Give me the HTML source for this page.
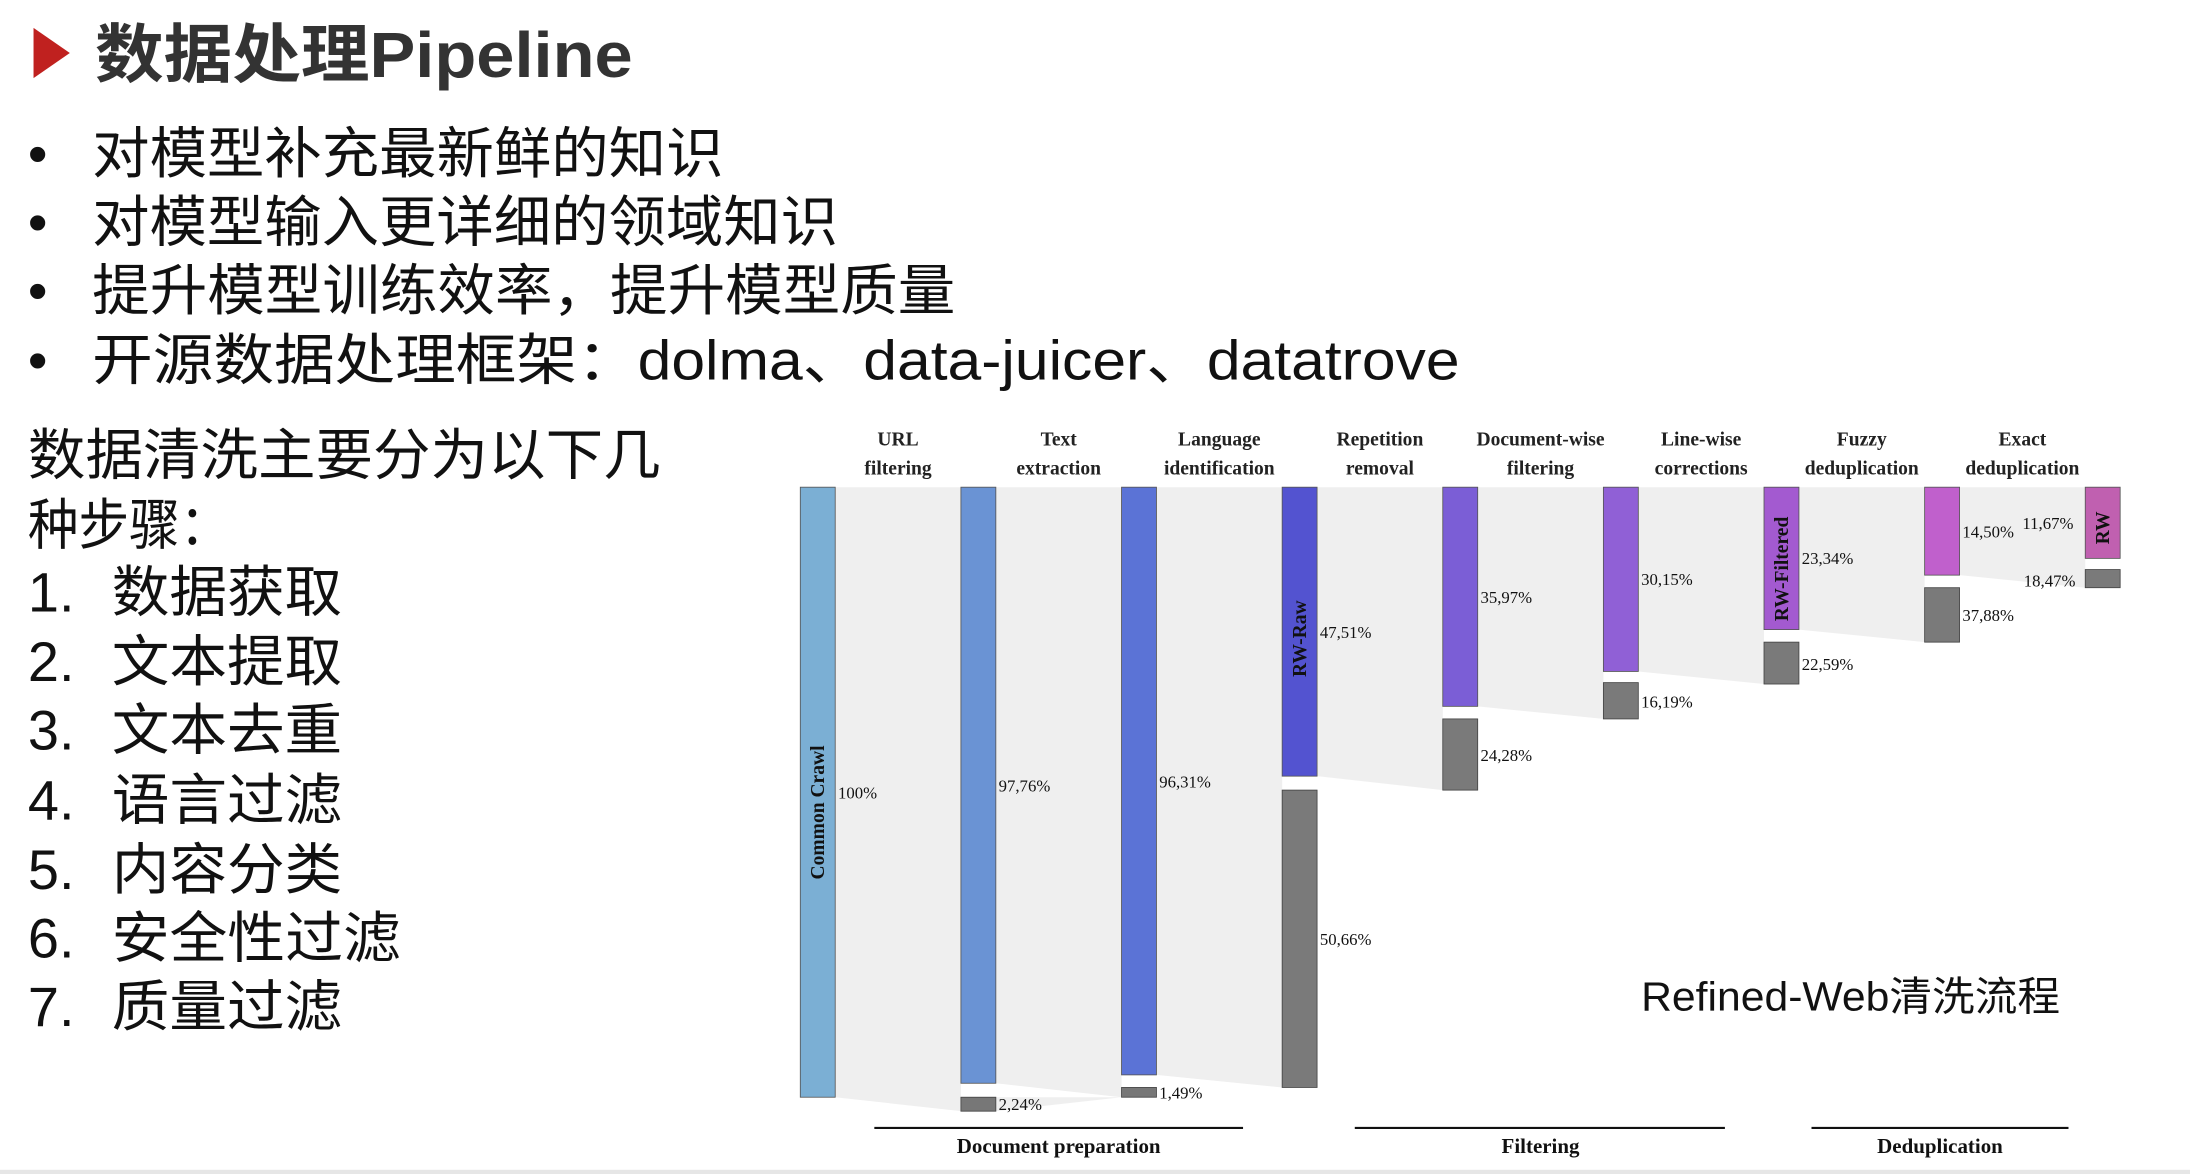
<!DOCTYPE html>
<html><head><meta charset="utf-8"><style>
html,body{margin:0;padding:0;background:#fff;}
svg{display:block;}
.cn{font-family:"Liberation Sans","Noto Sans CJK SC",sans-serif;fill:#111;}
.sf{font-family:"Liberation Serif","Noto Serif CJK SC",serif;fill:#111;}
</style></head><body>
<svg width="2190" height="1174" viewBox="0 0 1568 841" preserveAspectRatio="none" xmlns="http://www.w3.org/2000/svg">
<rect width="1568" height="841" fill="#fff"/>
<polygon points="24,20 50,38 24,56" fill="#c0211f"/>
<text x="68" y="55" class="cn" font-size="46" font-weight="bold" style="fill:#333" textLength="385" lengthAdjust="spacingAndGlyphs">数据处理Pipeline</text>
<g class="cn" font-size="40">
<text x="20" y="124">•</text><text x="66" y="124" textLength="452" lengthAdjust="spacingAndGlyphs">对模型补充最新鲜的知识</text>
<text x="20" y="173">•</text><text x="66" y="173" textLength="534" lengthAdjust="spacingAndGlyphs">对模型输入更详细的领域知识</text>
<text x="20" y="222">•</text><text x="66" y="222" textLength="618" lengthAdjust="spacingAndGlyphs">提升模型训练效率，提升模型质量</text>
<text x="20" y="272">•</text><text x="66" y="272" textLength="979" lengthAdjust="spacingAndGlyphs">开源数据处理框架：dolma、data-juicer、datatrove</text>
<text x="20" y="340" textLength="453" lengthAdjust="spacingAndGlyphs">数据清洗主要分为以下几</text>
<text x="20" y="390" textLength="145" lengthAdjust="spacingAndGlyphs">种步骤：</text>
<text x="20" y="438">1.</text><text x="80" y="438" textLength="165" lengthAdjust="spacingAndGlyphs">数据获取</text>
<text x="20" y="488">2.</text><text x="80" y="488" textLength="165" lengthAdjust="spacingAndGlyphs">文本提取</text>
<text x="20" y="537">3.</text><text x="80" y="537" textLength="165" lengthAdjust="spacingAndGlyphs">文本去重</text>
<text x="20" y="587">4.</text><text x="80" y="587" textLength="165" lengthAdjust="spacingAndGlyphs">语言过滤</text>
<text x="20" y="637">5.</text><text x="80" y="637" textLength="165" lengthAdjust="spacingAndGlyphs">内容分类</text>
<text x="20" y="686">6.</text><text x="80" y="686" textLength="207" lengthAdjust="spacingAndGlyphs">安全性过滤</text>
<text x="20" y="735">7.</text><text x="80" y="735" textLength="165" lengthAdjust="spacingAndGlyphs">质量过滤</text>
</g>
<!-- flows -->
<g fill="#efefef">
<polygon points="598,349 688,349 688,796 598,786"/>
<polygon points="713,349 803,349 803,786 713,776"/>
<polygon points="713,786 803,786 803,786 713,796"/>
<polygon points="828,349 918,349 918,779 828,770"/>
<polygon points="943,349 1033,349 1033,566 943,556"/>
<polygon points="1058,349 1148,349 1148,515 1058,506"/>
<polygon points="1173,349 1263,349 1263,490 1173,481"/>
<polygon points="1288,349 1378,349 1378,460 1288,451"/>
<polygon points="1403,349 1493,349 1493,421 1403,412"/>
</g>
<!-- bars -->
<rect x="573" y="349" width="25" height="437" fill="#7bafd4" stroke="#555" stroke-width="0.6"/>
<rect x="688" y="349" width="25" height="427" fill="#6a93d4" stroke="#555" stroke-width="0.6"/>
<rect x="688" y="786" width="25" height="10" fill="#777" stroke="#444" stroke-width="0.6"/>
<rect x="803" y="349" width="25" height="421" fill="#5b73d6" stroke="#555" stroke-width="0.6"/>
<rect x="803" y="779" width="25" height="7" fill="#777" stroke="#444" stroke-width="0.6"/>
<rect x="918" y="349" width="25" height="207" fill="#5353d0" stroke="#555" stroke-width="0.6"/>
<rect x="918" y="566" width="25" height="213" fill="#7a7a7a" stroke="#444" stroke-width="0.6"/>
<rect x="1033" y="349" width="25" height="157" fill="#7b5ed6" stroke="#555" stroke-width="0.6"/>
<rect x="1033" y="515" width="25" height="51" fill="#7a7a7a" stroke="#444" stroke-width="0.6"/>
<rect x="1148" y="349" width="25" height="132" fill="#9060d6" stroke="#555" stroke-width="0.6"/>
<rect x="1148" y="489" width="25" height="26" fill="#7a7a7a" stroke="#444" stroke-width="0.6"/>
<rect x="1263" y="349" width="25" height="102" fill="#a35ad0" stroke="#555" stroke-width="0.6"/>
<rect x="1263" y="460" width="25" height="30" fill="#7a7a7a" stroke="#444" stroke-width="0.6"/>
<rect x="1378" y="349" width="25" height="63" fill="#c060cc" stroke="#555" stroke-width="0.6"/>
<rect x="1378" y="421" width="25" height="39" fill="#7a7a7a" stroke="#444" stroke-width="0.6"/>
<rect x="1493" y="349" width="25" height="51" fill="#c060b0" stroke="#555" stroke-width="0.6"/>
<rect x="1493" y="408" width="25" height="13" fill="#7a7a7a" stroke="#444" stroke-width="0.6"/>
<!-- rotated labels -->
<g class="sf" font-size="14" font-weight="bold">
<text transform="translate(590,630) rotate(-90)">Common Crawl</text>
<text transform="translate(935,485) rotate(-90)">RW-Raw</text>
<text transform="translate(1280,445) rotate(-90)">RW-Filtered</text>
<text transform="translate(1510,390) rotate(-90)">RW</text>
</g>
<!-- headers -->
<g class="sf" font-size="14" font-weight="bold" text-anchor="middle" style="fill:#222">
<text x="643" y="319">URL</text><text x="643" y="340">filtering</text>
<text x="758" y="319">Text</text><text x="758" y="340">extraction</text>
<text x="873" y="319">Language</text><text x="873" y="340">identification</text>
<text x="988" y="319">Repetition</text><text x="988" y="340">removal</text>
<text x="1103" y="319">Document-wise</text><text x="1103" y="340">filtering</text>
<text x="1218" y="319">Line-wise</text><text x="1218" y="340">corrections</text>
<text x="1333" y="319">Fuzzy</text><text x="1333" y="340">deduplication</text>
<text x="1448" y="319">Exact</text><text x="1448" y="340">deduplication</text>
</g>
<!-- percents -->
<g class="sf" font-size="12">
<text x="600" y="572">100%</text>
<text x="715" y="567">97,76%</text>
<text x="715" y="795">2,24%</text>
<text x="830" y="564">96,31%</text>
<text x="830" y="787">1,49%</text>
<text x="945" y="457">47,51%</text>
<text x="945" y="677">50,66%</text>
<text x="1060" y="432">35,97%</text>
<text x="1060" y="545">24,28%</text>
<text x="1175" y="419">30,15%</text>
<text x="1175" y="507">16,19%</text>
<text x="1290" y="404">23,34%</text>
<text x="1290" y="480">22,59%</text>
<text x="1405" y="385">14,50%</text>
<text x="1448" y="379">11,67%</text>
<text x="1405" y="445">37,88%</text>
<text x="1449" y="420">18,47%</text>
</g>
<!-- bottom groups -->
<g stroke="#111" stroke-width="1.5">
<line x1="626" y1="808" x2="890" y2="808"/>
<line x1="970" y1="808" x2="1235" y2="808"/>
<line x1="1297" y1="808" x2="1481" y2="808"/>
</g>
<g class="sf" font-size="15" font-weight="bold" text-anchor="middle">
<text x="758" y="826">Document preparation</text>
<text x="1103" y="826">Filtering</text>
<text x="1389" y="826">Deduplication</text>
</g>
<text x="1175" y="724" class="cn" font-size="29" textLength="300" lengthAdjust="spacingAndGlyphs">Refined-Web清洗流程</text>
<rect x="0" y="838" width="1568" height="3" fill="#e6e6e6"/>
</svg>
</body></html>
